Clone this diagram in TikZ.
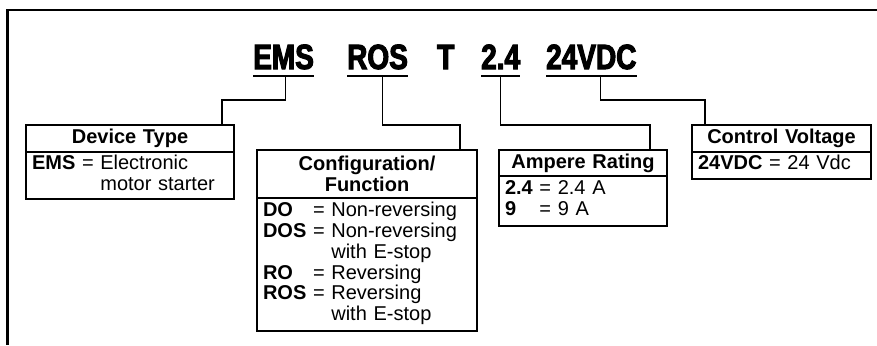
\documentclass[tikz,border=0pt]{standalone}
\usepackage{fontspec}
\setmainfont{Liberation Sans}
\newfontfamily\titlefont{Liberation Sans}[FakeStretch=0.8, FakeBold=3]
\usepackage{tikz}
\usetikzlibrary{calc}
\definecolor{inkc}{RGB}{0,0,0}
\newcommand\boxfont{\fontsize{20}{20.8}\selectfont}
\renewcommand{\arraystretch}{1}

\begin{document}
\begin{tikzpicture}[x=1pt, y=-1pt, inkc,
  title/.style={font=\titlefont\bfseries\fontsize{35}{35}\selectfont, anchor=base west, inner sep=0pt},
  hdr/.style={draw, line width=2pt, outer sep=0pt, inner sep=0pt, font=\boxfont\bfseries, align=center, anchor=north west},
  body/.style={draw, line width=2pt, outer sep=0pt, inner xsep=6pt, inner ysep=0pt, font=\boxfont, align=left, anchor=north west},
  link/.style={line width=1.3pt},
  uline/.style={line width=2pt}]
  \useasboundingbox (0,0) rectangle (877,345);

  % frame round the page
  \draw[line width=2.5pt] (877,10) -- (7.5,10) -- (7.5,345);

  % catalogue number
  \node[title] (ems)  at (253,69) {EMS};
  \node[title] (ros)  at (347,69) {ROS};
  \node[title] (tt)   at (437,69) {T};
  \node[title] (amp)  at (481,69) {2.4};
  \node[title] (volt) at (546,69) {24VDC};

  \foreach \w in {ems, ros, amp, volt}
    \draw[uline] ($(\w.base west)+(0,7)$) -- ($(\w.base east)+(0,7)$);

  % key boxes
  \node[hdr, text width=208, minimum height=27] (devhd) at (26,125) {Device Type};
  \node[body, text width=196, minimum height=47] (devbd) at (devhd.south west)
    {\begin{tabular}{@{}l@{\ }l@{\ }l@{}}
      \textbf{EMS} & = & Electronic\\
                   &   & motor starter
     \end{tabular}};

  \node[hdr, text width=220, minimum height=48] (cfghd) at (257,150) {Configuration/\\Function};
  \node[body, text width=208, minimum height=133] (cfgbd) at (cfghd.south west)
    {\begin{tabular}{@{}l@{\ }l@{\ }l@{}}
      \textbf{DO}  & = & Non-reversing\\
      \textbf{DOS} & = & Non-reversing\\
                   &   & with E-stop\\
      \textbf{RO}  & = & Reversing\\
      \textbf{ROS} & = & Reversing\\
                   &   & with E-stop
     \end{tabular}};

  \node[hdr, text width=168, minimum height=26] (amphd) at (499,150) {Ampere Rating};
  \node[body, text width=156, minimum height=50] (ampbd) at (amphd.south west)
    {\begin{tabular}{@{}l@{\ }l@{\ }l@{}}
      \textbf{2.4} & = & 2.4 A\\
      \textbf{9}   & = & 9 A
     \end{tabular}};

  \node[hdr, text width=179, minimum height=27] (volthd) at (692,125) {Control Voltage};
  \node[body, text width=167, minimum height=27] (voltbd) at (volthd.south west)
    {\begin{tabular}{@{}l@{\ }l@{\ }l@{}}
      \textbf{24VDC} & = & 24 Vdc
     \end{tabular}};

  % leaders from the code to its key
  \draw[link] ($(ems.base)+(2,7)$)  -- ++(0,24) -| ($(devhd.north east)+(-12,0)$);
  \draw[link] ($(ros.base)+(5,7)$)  -- ++(0,49) -| ($(cfghd.north east)+(-17,0)$);
  \draw[link] ($(amp.base)+(0,7)$)  -- ++(0,49) -| ($(amphd.north east)+(-17,0)$);
  \draw[link] ($(volt.base)+(9,7)$) -- ++(0,24) -| ($(volthd.north west)+(13,0)$);
\end{tikzpicture}
\end{document}
